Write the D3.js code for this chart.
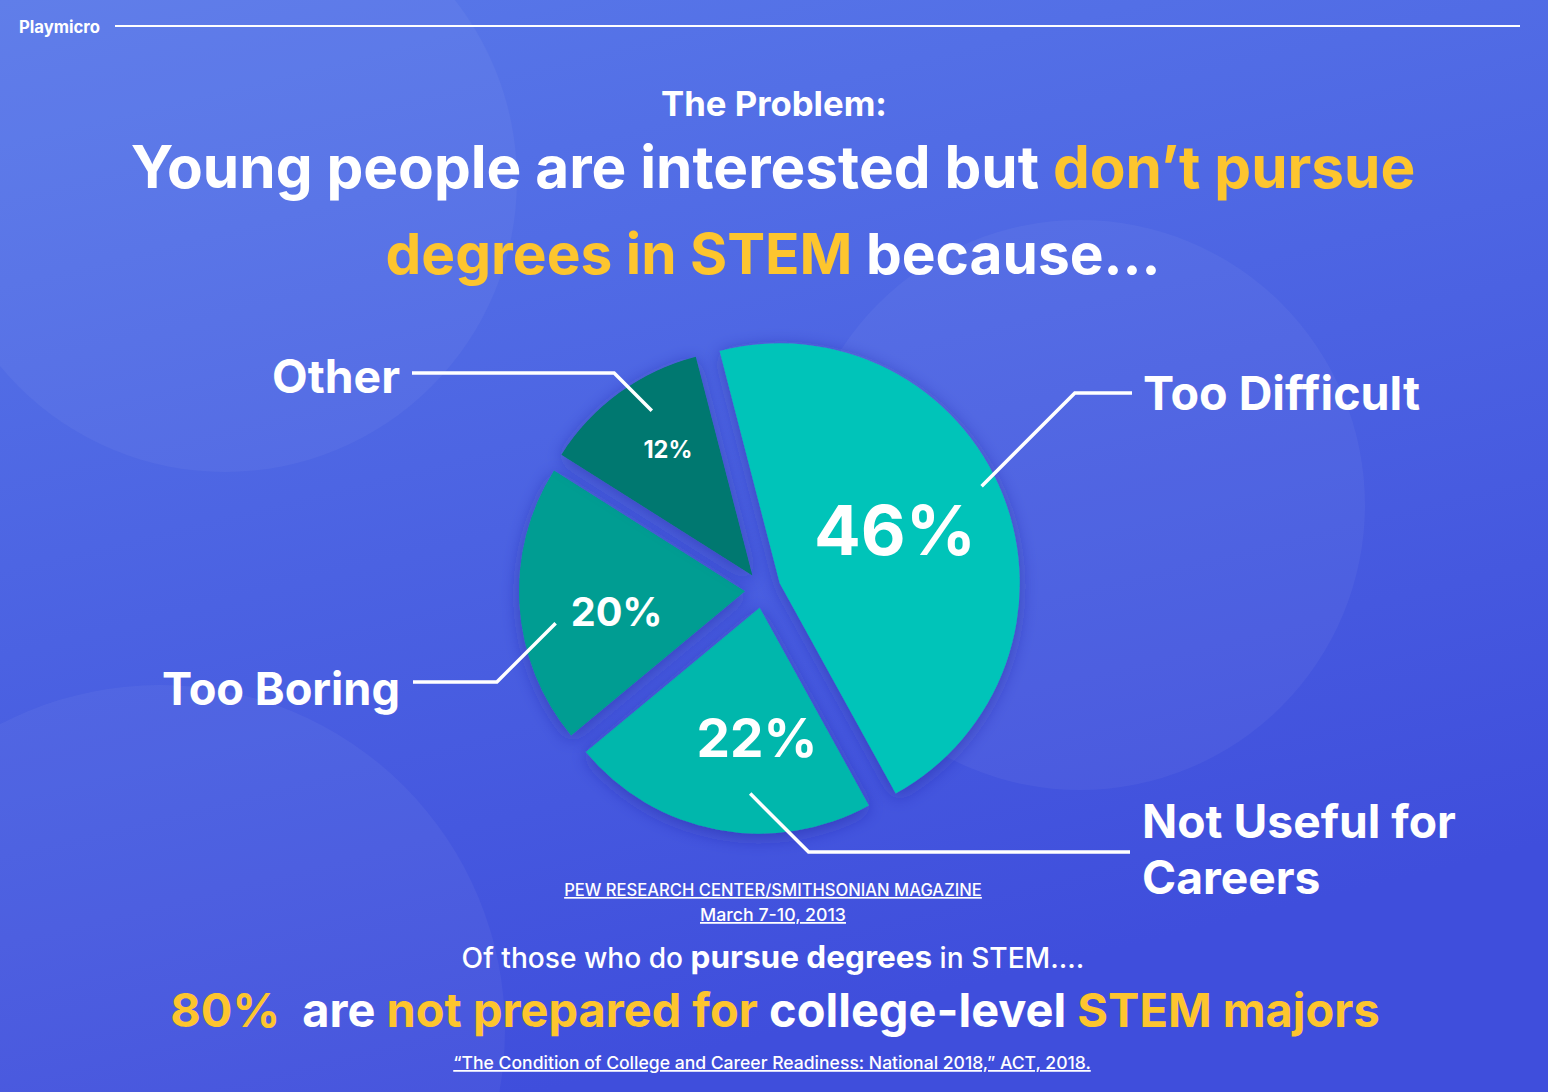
<!DOCTYPE html>
<html>
<head>
<meta charset="utf-8">
<script src="https://cdn.jsdelivr.net/npm/d3@7"></script>
<style>
  html, body { margin: 0; padding: 0; background: #4a62e2; }
  svg { display: block; }
  text { font-family: Inter, "Noto Sans", sans-serif; fill: #fff; white-space: pre; }
</style>
</head>
<body>
<div id="chart"></div>
<script>
// chart data
const reasons = ["Too Difficult", "Not Useful for Careers", "Too Boring", "Other"];
const shares = [46, 22, 20, 12];
const pctLabels = ["46%", "22%", "20%", "12%"];
const sliceColors = ["#02c4b9", "#02b7ac", "#029d92", "#037870"];

const width = 1548, height = 1092;
const yellow = "#fdc52e";

// pie layout (center, angles in degrees)
const cx = 763, cy = 590;
const startDeg = -14.5;
const sliceR = [240, 226, 226, 226];
const explode = 18;
const pctAngle = [65.6, 182.3, 261.4, 326];
const pctDist = [145, 148, 148, 170];
const pctWidth = [162, 121, 92, 49];
const leadAngle = [64.6, 183.6, 260.9, 328.2];
const leadDist = [242, 204, 210, 211];
const leadY = [393, 852, 682, 373];
const leadEndX = [1132, 1130, 413, 412];

let svg = d3.select("#chart")
    .append("svg")
    .attr("width", width)
    .attr("height", height);

let defs = svg.append("defs");
let bg = defs.append("linearGradient")
    .attr("id", "bg")
    .attr("x1", "0").attr("y1", "0")
    .attr("x2", "0.35").attr("y2", "1");
bg.append("stop").attr("offset", "0").attr("stop-color", "#5979e9");
bg.append("stop").attr("offset", "1").attr("stop-color", "#3f4edc");

defs.append("filter")
    .attr("id", "shadow")
    .attr("x", "-30%").attr("y", "-30%")
    .attr("width", "160%").attr("height", "160%")
    .append("feDropShadow")
    .attr("dx", 0).attr("dy", 4)
    .attr("stdDeviation", 9)
    .attr("flood-color", "#23288f")
    .attr("flood-opacity", 0.45);

svg.append("rect")
    .attr("width", width).attr("height", height)
    .attr("fill", "url(#bg)");

// soft decorative circles
[[225, 180, 292], [1080, 505, 285], [160, 1030, 345]].forEach(c => {
    svg.append("circle")
        .attr("cx", c[0]).attr("cy", c[1]).attr("r", c[2])
        .attr("fill", "#fff")
        .attr("opacity", 0.045);
});

// scale a text element so it spans the target width
function fitWidth(sel, target) {
    const fs = parseFloat(sel.attr("font-size"));
    const w = sel.node().getComputedTextLength();
    sel.attr("font-size", fs * target / w);
    return sel;
}

function polar(angleDeg, dist) {
    const a = angleDeg * Math.PI / 180;
    return [cx + dist * Math.sin(a), cy - dist * Math.cos(a)];
}

// header
svg.append("text")
    .attr("x", 19).attr("y", 33)
    .attr("font-size", 15).attr("font-weight", 700)
    .text("Playmicro")
    .call(fitWidth, 81);

svg.append("line")
    .attr("x1", 115).attr("x2", 1520)
    .attr("y1", 26).attr("y2", 26)
    .attr("stroke", "#fff").attr("stroke-width", 2);

svg.append("text")
    .attr("x", 774).attr("y", 116)
    .attr("text-anchor", "middle")
    .attr("font-size", 32).attr("font-weight", 700)
    .text("The Problem:")
    .call(fitWidth, 226);

let t1 = svg.append("text")
    .attr("x", 773).attr("y", 188)
    .attr("text-anchor", "middle")
    .attr("font-size", 60).attr("font-weight", 700);
t1.append("tspan").text("Young people are interested but ");
t1.append("tspan").style("fill", yellow).text("don\u2019t pursue");
fitWidth(t1, 1285);

let t2 = svg.append("text")
    .attr("x", 773).attr("y", 274)
    .attr("text-anchor", "middle")
    .attr("font-size", 60).attr("font-weight", 700);
t2.append("tspan").style("fill", yellow).text("degrees in STEM");
t2.append("tspan").text(" because...");
fitWidth(t2, 775);

// pie
let pie = d3.pie()
    .sort(null)
    .value(d => d)
    .startAngle(startDeg * Math.PI / 180)
    .endAngle((360 + startDeg) * Math.PI / 180);

let arcs = pie(shares);

let pieG = svg.append("g")
    .attr("transform", `translate(${cx}, ${cy})`);

pieG.selectAll("path")
    .data(arcs)
    .enter()
    .append("path")
    .attr("fill", (d, i) => sliceColors[i])
    .attr("filter", "url(#shadow)")
    .attr("transform", d => {
        const mid = (d.startAngle + d.endAngle) / 2;
        return `translate(${explode * Math.sin(mid)}, ${-explode * Math.cos(mid)})`;
    })
    .attr("d", (d, i) => d3.arc().innerRadius(0).outerRadius(sliceR[i])(d));

// percent labels inside slices
arcs.forEach((d, i) => {
    const p = polar(pctAngle[i], pctDist[i]);
    let t = svg.append("text")
        .attr("x", p[0]).attr("y", p[1])
        .attr("dy", "0.36em")
        .attr("text-anchor", "middle")
        .attr("font-size", 40).attr("font-weight", 700)
        .text(pctLabels[i]);
    fitWidth(t, pctWidth[i]);
});

// leader lines
arcs.forEach((d, i) => {
    const s = polar(leadAngle[i], leadDist[i]);
    const dy = leadY[i] - s[1];
    const dir = leadEndX[i] > s[0] ? 1 : -1;
    const elbow = [s[0] + dir * Math.abs(dy), leadY[i]];
    svg.append("path")
        .attr("d", d3.line()([s, elbow, [leadEndX[i], leadY[i]]]))
        .attr("fill", "none")
        .attr("stroke", "#fff")
        .attr("stroke-width", 3.5);
});

// category labels
function catLabel(lines, x, y, anchor, w) {
    let t = svg.append("text")
        .attr("x", x).attr("y", y)
        .attr("text-anchor", anchor)
        .attr("font-size", 44).attr("font-weight", 700);
    lines.forEach((l, j) => {
        t.append("tspan").attr("x", x).attr("dy", j ? "1.22em" : 0).text(l);
    });
    const fs = 44;
    const mw = d3.max(t.selectAll("tspan").nodes(), n => n.getComputedTextLength());
    t.attr("font-size", fs * w / mw);
}
catLabel([reasons[0]], 1143, 410, "start", 277);
catLabel(["Not Useful for", "Careers"], 1142, 838, "start", 314);
catLabel([reasons[2]], 400, 705, "end", 238);
catLabel([reasons[3]], 400, 393, "end", 128);

// sources and footnote text
svg.append("text")
    .attr("x", 773).attr("y", 896)
    .attr("text-anchor", "middle")
    .attr("font-size", 16).attr("font-weight", 500)
    .style("text-decoration", "underline")
    .text("PEW RESEARCH CENTER/SMITHSONIAN MAGAZINE")
    .call(fitWidth, 418);

svg.append("text")
    .attr("x", 773).attr("y", 921)
    .attr("text-anchor", "middle")
    .attr("font-size", 16).attr("font-weight", 500)
    .style("text-decoration", "underline")
    .text("March 7-10, 2013")
    .call(fitWidth, 146);

let t3 = svg.append("text")
    .attr("x", 773).attr("y", 968)
    .attr("text-anchor", "middle")
    .attr("font-size", 28).attr("font-weight", 500);
t3.append("tspan").text("Of those who do ");
t3.append("tspan").attr("font-weight", 700).attr("font-size", "1.12em").text("pursue degrees");
t3.append("tspan").text(" in STEM....");
fitWidth(t3, 623);

let t4 = svg.append("text")
    .attr("x", 775).attr("y", 1027)
    .attr("text-anchor", "middle")
    .attr("font-size", 48).attr("font-weight", 700);
t4.append("tspan").style("fill", yellow).text("80%");
t4.append("tspan").text("  are ");
t4.append("tspan").style("fill", yellow).text("not prepared for");
t4.append("tspan").text(" college-level ");
t4.append("tspan").style("fill", yellow).text("STEM majors");
fitWidth(t4, 1210);

svg.append("text")
    .attr("x", 772).attr("y", 1069)
    .attr("text-anchor", "middle")
    .attr("font-size", 17).attr("font-weight", 500)
    .style("text-decoration", "underline")
    .text("\u201CThe Condition of College and Career Readiness: National 2018,\u201D ACT, 2018.")
    .call(fitWidth, 638);
</script>
</body>
</html>
